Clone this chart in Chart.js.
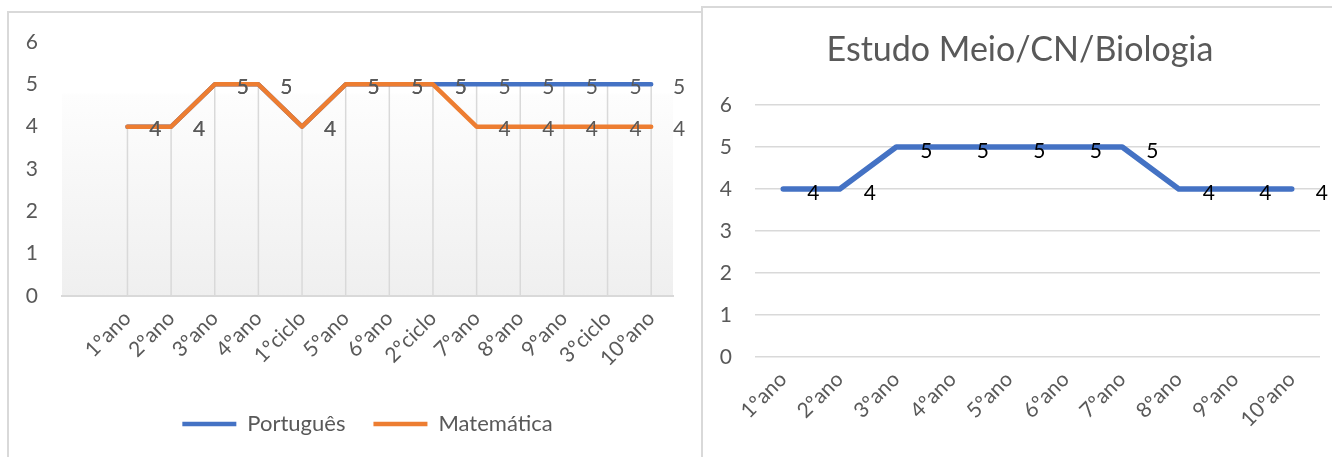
<!DOCTYPE html>
<html>
<head>
<meta charset="utf-8">
<script src="https://cdn.jsdelivr.net/npm/chart.js@4/dist/chart.umd.min.js"></script>
<style>
  html, body { margin: 0; padding: 0; background: #ffffff; width: 1332px; height: 457px; overflow: hidden; }
  .frame { position: absolute; box-sizing: border-box; border: 2px solid #d9d9d9; }
  #leftFrame { left: 7px; top: 11px; width: 696px; height: 470px; }
  #rightFrame { left: 701px; top: 6px; width: 660px; height: 470px; }
  .box { position: absolute; }
  #leftBox { left: 0; top: 0; width: 700px; height: 457px; }
  #rightBox { left: 703px; top: 7px; width: 629px; height: 450px; }
</style>
</head>
<body>
<div class="frame" id="leftFrame"></div>
<div class="frame" id="rightFrame"></div>
<div class="box" id="leftBox"><canvas id="leftChart"></canvas></div>
<div class="box" id="rightBox"><canvas id="rightChart"></canvas></div>
<script>
// School years / cycles (the first slot is an empty category)
const gradeLabels = ['', '1ºano', '2ºano', '3ºano', '4ºano', '1ºciclo', '5ºano', '6ºano', '2ºciclo', '7ºano', '8ºano', '9ºano', '3ºciclo', '10ºano'];
const portugues  = [null, 4, 4, 5, 5, 4, 5, 5, 5, 5, 5, 5, 5, 5];
const matematica = [null, 4, 4, 5, 5, 4, 5, 5, 5, 4, 4, 4, 4, 4];

// Estudo do Meio / Ciências Naturais / Biologia
const bioLabels = ['1ºano', '2ºano', '3ºano', '4ºano', '5ºano', '6ºano', '7ºano', '8ºano', '9ºano', '10ºano'];
const biologia  = [4, 4, 5, 5, 5, 5, 5, 4, 4, 4];

const yMin = 0, yMax = 6, yStep = 1;

const FONT = 'Lato, "Noto Sans", sans-serif';
const GREY_TEXT = '#595959';
const GRID = '#d9d9d9';
const BLUE = '#4472C4';
const ORANGE = '#ED7D31';

// Value labels written to the right of each point
const valueLabels = {
  id: 'valueLabels',
  afterDatasetsDraw(chart, args, opts) {
    const ctx = chart.ctx;
    ctx.save();
    ctx.font = opts.size + 'px ' + FONT;
    ctx.fillStyle = opts.color;
    ctx.textAlign = 'center';
    ctx.textBaseline = 'middle';
    chart.data.datasets.forEach((ds, i) => {
      const meta = chart.getDatasetMeta(i);
      meta.data.forEach((pt, j) => {
        const v = ds.data[j];
        if (v === null || v === undefined) return;
        ctx.fillText(String(v), pt.x + opts.dx, pt.y + opts.dy);
      });
    });
    ctx.restore();
  }
};

// Vertical drop lines from the highest point of each category to the axis
const dropLines = {
  id: 'dropLines',
  beforeDatasetsDraw(chart, args, opts) {
    if (!opts.enabled) return;
    const ctx = chart.ctx;
    const area = chart.chartArea;
    const n = chart.data.labels.length;
    ctx.save();
    ctx.strokeStyle = opts.color;
    ctx.lineWidth = opts.width;
    for (let j = 0; j < n; j++) {
      let top = Infinity, x = null;
      chart.data.datasets.forEach((ds, i) => {
        const v = ds.data[j];
        if (v === null || v === undefined) return;
        const pt = chart.getDatasetMeta(i).data[j];
        top = Math.min(top, pt.y);
        x = pt.x;
      });
      if (x === null) continue;
      ctx.beginPath();
      ctx.moveTo(x, top);
      ctx.lineTo(x, area.bottom);
      ctx.stroke();
    }
    ctx.restore();
  }
};

// Soft white-to-grey gradient behind the plot area
const plotGradient = {
  id: 'plotGradient',
  beforeDraw(chart, args, opts) {
    if (!opts.enabled) return;
    const {ctx, chartArea: a} = chart;
    const g = ctx.createLinearGradient(0, a.top, 0, a.bottom);
    g.addColorStop(0, '#ffffff');
    g.addColorStop(0.2, '#ffffff');
    g.addColorStop(0.21, '#fdfdfd');
    g.addColorStop(1, '#efefef');
    ctx.save();
    ctx.fillStyle = g;
    ctx.fillRect(a.left, a.top, a.right - a.left, a.bottom - a.top);
    ctx.restore();
  }
};

Chart.register(valueLabels, dropLines, plotGradient);

function lineSet(label, data, color, width, order) {
  return {
    label, data, order,
    borderColor: color,
    backgroundColor: color,
    borderWidth: width,
    borderCapStyle: 'round',
    borderJoinStyle: 'round',
    pointRadius: 0,
    pointHoverRadius: 0,
    tension: 0,
    spanGaps: false,
    fill: false
  };
}

new Chart(document.getElementById('leftChart'), {
  type: 'line',
  data: {
    labels: gradeLabels,
    datasets: [
      lineSet('Português', portugues, BLUE, 4.5, 1),
      lineSet('Matemática', matematica, ORANGE, 4.5, 0)
    ]
  },
  options: {
    responsive: true,
    maintainAspectRatio: false,
    animation: false,
    events: [],
    layout: { padding: { top: 42, left: 0, right: 27, bottom: 12 } },
    scales: {
      x: {
        type: 'category',
        offset: true,
        grid: { display: false, drawTicks: false },
        border: { display: true, color: GRID, width: 2 },
        ticks: {
          autoSkip: false, minRotation: 45, maxRotation: 45,
          color: GREY_TEXT, font: { family: FONT, size: 21 }, padding: 10
        },
        afterFit(s) { s.height = 89; }
      },
      y: {
        min: yMin, max: yMax,
        grid: { display: false, drawTicks: false },
        border: { display: false },
        ticks: { stepSize: yStep, color: GREY_TEXT, font: { family: FONT, size: 21 }, padding: 24 },
        afterFit(s) { s.width = 62; }
      }
    },
    plugins: {
      legend: {
        position: 'bottom',
        fullSize: false,
        reverse: true,
        labels: {
          usePointStyle: true,
          pointStyle: 'line',
          pointStyleWidth: 54,
          padding: 28,
          color: GREY_TEXT,
          font: { family: FONT, size: 22 }
        }
      },
      title: { display: false },
      tooltip: { enabled: false },
      valueLabels: { size: 21, color: GREY_TEXT, dx: 28, dy: 3 },
      dropLines: { enabled: true, color: GRID, width: 1.5 },
      plotGradient: { enabled: true }
    }
  }
});

new Chart(document.getElementById('rightChart'), {
  type: 'line',
  data: {
    labels: bioLabels,
    datasets: [ lineSet('Estudo Meio/CN/Biologia', biologia, BLUE, 5.5, 0) ]
  },
  options: {
    responsive: true,
    maintainAspectRatio: false,
    animation: false,
    events: [],
    layout: { padding: { top: 0, left: 17, right: 12, bottom: 0 } },
    scales: {
      x: {
        type: 'category',
        offset: true,
        grid: { display: false, drawTicks: false },
        border: { display: false },
        ticks: {
          autoSkip: false, minRotation: 45, maxRotation: 45,
          color: GREY_TEXT, font: { family: FONT, size: 21 }, padding: 10
        },
        afterFit(s) { s.height = 100; }
      },
      y: {
        min: yMin, max: yMax,
        grid: { color: GRID, lineWidth: 1.5, drawTicks: false },
        border: { display: false },
        ticks: { stepSize: yStep, color: GREY_TEXT, font: { family: FONT, size: 21 }, padding: 23 },
        afterFit(s) { s.width = 35; }
      }
    },
    plugins: {
      legend: { display: false },
      title: {
        display: true,
        text: 'Estudo Meio/CN/Biologia',
        color: GREY_TEXT,
        font: { family: FONT, size: 34, weight: 'normal' },
        padding: { top: 22.6, bottom: 34.6 }
      },
      tooltip: { enabled: false },
      valueLabels: { size: 21, color: '#000000', dx: 30, dy: 4 },
      dropLines: { enabled: false },
      plotGradient: { enabled: false }
    }
  }
});
</script>
</body>
</html>
